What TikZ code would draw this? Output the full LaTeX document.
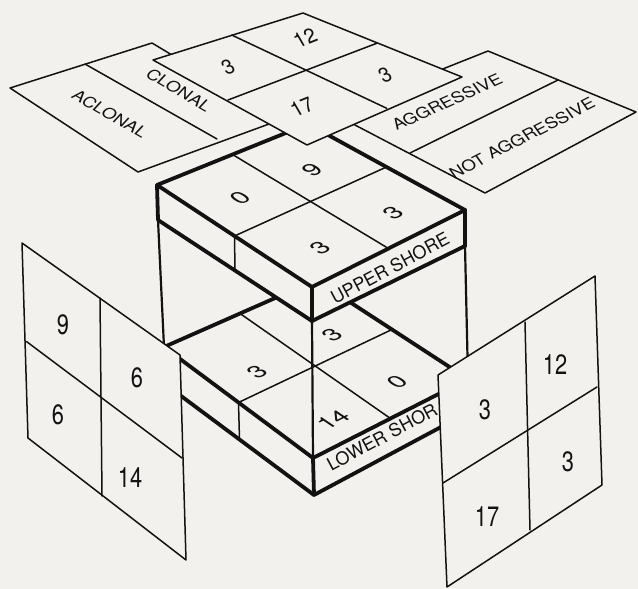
\documentclass[tikz,border=0pt]{standalone}
\usepackage{fontspec}
\setmainfont{TeX Gyre Heros}
\usetikzlibrary{calc}
\definecolor{bg}{RGB}{243,241,238}
\definecolor{ink}{RGB}{18,18,18}
\tikzset{
  thinln/.style={draw=ink,line width=1.5pt,line join=round,line cap=round},
  thickln/.style={draw=ink,line width=3.8pt,line join=round,line cap=round},
  vertln/.style={draw=ink,line width=2.2pt,line cap=round},
  panelbox/.style={fill=bg,draw=ink,line width=1.5pt,line join=round},
  slabface/.style={fill=bg,draw=none},
}
\newcommand\planetxt[5]{\begin{scope}[shift={#2},cm={#3,(0,0)}]\node[transform shape,inner sep=0pt,text=ink,font=\fontsize{#4}{#4}\selectfont] (#1) at (0,0) {#5};\end{scope}}
\begin{document}
\begin{tikzpicture}[x=1pt,y=-1pt]
\fill[bg] (0,0) rectangle (638,589);
\useasboundingbox (0,0) rectangle (638,589);
% ---------- coordinates
\coordinate (A1) at (10,88);  \coordinate (A2) at (152,43);
\coordinate (A3) at (280,120); \coordinate (A4) at (138,172);
\coordinate (AD1) at (85,64); \coordinate (AD2) at (217,139);
\coordinate (G1) at (332,113); \coordinate (G2) at (488,51);
\coordinate (G3) at (636,112); \coordinate (G4) at (485,193);
\coordinate (GD1) at (558,80); \coordinate (GD2) at (410,153);
\coordinate (P1) at (153,60); \coordinate (P2) at (303,13);
\coordinate (P3) at (462,77); \coordinate (P4) at (307,145);
\coordinate (PA) at (231.7,35); \coordinate (PB) at (386.7,108.3);
\coordinate (PC) at (376.7,43.3); \coordinate (PD) at (228,100);
\coordinate (UL) at (157,185); \coordinate (UB) at (308,124);
\coordinate (UR) at (465,210); \coordinate (UF) at (312,287);
\coordinate (ULd) at (158,220); \coordinate (UFd) at (312,321);
\coordinate (URd) at (465,246);
\coordinate (LL) at (164,347); \coordinate (LB) at (316,280);
\coordinate (LR) at (468,379); \coordinate (LF) at (313,458);
\coordinate (LLd) at (165,384); \coordinate (LFd) at (314,495);
\coordinate (LRd) at (469,412);
\coordinate (Q1) at (22,243); \coordinate (Q2) at (180,355);
\coordinate (Q3) at (186,560); \coordinate (Q4) at (28,438);
\coordinate (QH1) at (26.7,341.7); \coordinate (QH2) at (182,458);
\coordinate (QV1) at (100,298); \coordinate (QV2) at (102,496);
\coordinate (R1) at (438,375); \coordinate (R2) at (595,276);
\coordinate (R3) at (602,485); \coordinate (R4) at (447,587);
\coordinate (RV1) at (525,322); \coordinate (RV2) at (530,530);
\coordinate (RH1) at (443,483); \coordinate (RH2) at (597,387);
% ---------- CLONAL / ACLONAL panel
\draw[panelbox] (A1)--(A2)--(A3)--(A4)--cycle;
\draw[thinln] (AD1)--(AD2);
\planetxt{tclonal}{(179,90)}{0.866,-0.5,0.600,0.650}{18}{CLONAL}
\planetxt{taclonal}{(110,114)}{0.866,-0.5,0.600,0.650}{18}{ACLONAL}
% ---------- AGGRESSIVE panel
\draw[panelbox] (G1)--(G2)--(G3)--(G4)--cycle;
\draw[thinln] (GD1)--(GD2);
\planetxt{taggr}{(447,102)}{0.914,0.407,-0.520,0.730}{18}{AGGRESSIVE}
\planetxt{tnotaggr}{(522,138)}{0.891,0.454,-0.520,0.730}{18}{NOT AGGRESSIVE}
% ---------- lower slab
\fill[slabface] (LL)--(LB)--(LR)--(LRd)--(LFd)--(LLd)--cycle;
\draw[thinln] ($(LL)!0.5!(LB)$)--($(LR)!0.5!(LF)$);
\draw[thinln] ($(LB)!0.5!(LR)$)--($(LL)!0.5!(LF)$);
\draw[thinln] ($(LL)!0.5!(LF)$)--($(LLd)!0.5!(LFd)$);
\draw[thickln] (LL)--(LB)--(LR)--(LF)--cycle;
\draw[thickln] (LLd)--(LFd)--(LRd);
\draw[thickln] (LF)--(LFd);
\draw[thickln] (LR)--(LRd);
% cube verticals
\draw[vertln] (ULd)--(LL);
\draw[vertln] (UFd)--(LF);
\draw[vertln] (URd)--(LR);
% lower digits
\planetxt{nl1}{(332,335)}{0.713,0.363,-0.580,0.391}{32}{3}
\planetxt{nl2}{(257,372)}{0.713,0.363,-0.580,0.391}{32}{3}
\planetxt{nl3}{(397,382)}{0.713,0.363,-0.580,0.391}{32}{0}
\planetxt{nl4}{(333,420)}{0.713,0.363,-0.580,0.391}{32}{14}
\planetxt{tlower}{(382,437)}{0.883,0.469,-0.469,0.883}{18}{LOWER SHOR}
% ---------- upper slab
\fill[slabface] (UL)--(UB)--(UR)--(URd)--(UFd)--(ULd)--cycle;
\draw[thinln] ($(UL)!0.5!(UB)$)--($(UR)!0.5!(UF)$);
\draw[thinln] ($(UB)!0.5!(UR)$)--($(UL)!0.5!(UF)$);
\draw[thinln] ($(UL)!0.5!(UF)$)--($(ULd)!0.5!(UFd)$);
\draw[thickln] (UL)--(UB)--(UR)--(UF)--cycle;
\draw[thickln] (ULd)--(UFd)--(URd);
\draw[thickln] (UL)--(ULd);
\draw[thickln] (UF)--(UFd);
\draw[thickln] (UR)--(URd);
\planetxt{nu1}{(240,198)}{0.713,0.363,-0.580,0.391}{32}{0}
\planetxt{nu2}{(312,170)}{0.713,0.363,-0.580,0.391}{32}{9}
\planetxt{nu3}{(393,213)}{0.713,0.363,-0.580,0.391}{32}{3}
\planetxt{nu4}{(320,248)}{0.713,0.363,-0.580,0.391}{32}{3}
\planetxt{tupper}{(390,268)}{0.883,0.469,-0.469,0.883}{18}{UPPER SHORE}
% ---------- top panel
\draw[panelbox] (P1)--(P2)--(P3)--(P4)--cycle;
\draw[thinln] (PA)--(PB);
\draw[thinln] (PC)--(PD);
\planetxt{nt1}{(228,67)}{0.742,0.300,-0.425,0.736}{25}{3}
\planetxt{nt2}{(305,38)}{0.742,0.300,-0.425,0.736}{25}{12}
\planetxt{nt3}{(302,107)}{0.742,0.300,-0.425,0.736}{25}{17}
\planetxt{nt4}{(385,75)}{0.742,0.300,-0.425,0.736}{25}{3}
% ---------- left panel
\draw[panelbox] (Q1)--(Q2)--(Q3)--(Q4)--cycle;
\draw[thinln] (QH1)--(QH2);
\draw[thinln] (QV1)--(QV2);
\planetxt{nq1}{(63,325)}{0.78,0,0,1}{28}{9}
\planetxt{nq2}{(137,378)}{0.78,0,0,1}{28}{6}
\planetxt{nq3}{(58,415)}{0.78,0,0,1}{28}{6}
\planetxt{nq4}{(130,478)}{0.78,0,0,1}{28}{14}
% ---------- right panel
\draw[panelbox] (R1)--(R2)--(R3)--(R4)--cycle;
\draw[thinln] (RV1)--(RV2);
\draw[thinln] (RH1)--(RH2);
\planetxt{nr1}{(485,410)}{0.78,0,0,1}{28}{3}
\planetxt{nr2}{(555,365)}{0.78,0,0,1}{28}{12}
\planetxt{nr3}{(487,517)}{0.78,0,0,1}{28}{17}
\planetxt{nr4}{(568,462)}{0.78,0,0,1}{28}{3}
\end{tikzpicture}
\end{document}
